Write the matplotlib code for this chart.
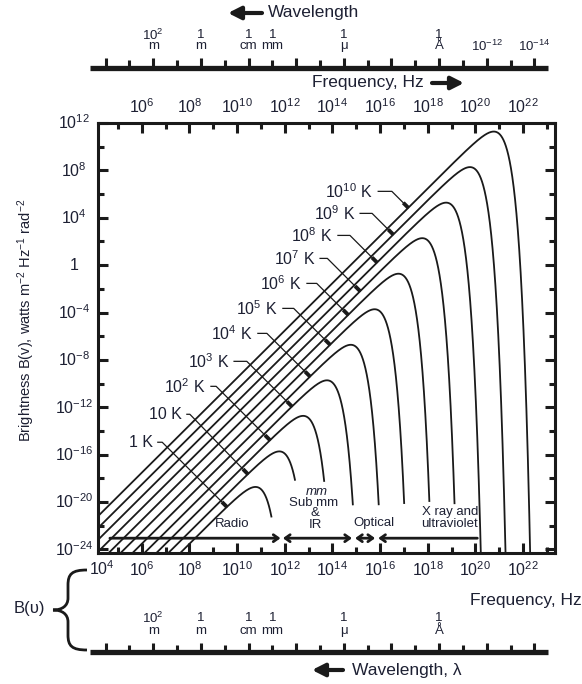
import numpy as np
import matplotlib
matplotlib.use("Agg")
import matplotlib.pyplot as plt
from matplotlib.ticker import FixedLocator, FuncFormatter, NullFormatter
from matplotlib.transforms import blended_transform_factory
from matplotlib.lines import Line2D
from matplotlib.path import Path
from matplotlib.patches import PathPatch

plt.rcParams["font.family"] = ["Liberation Sans", "DejaVu Sans"]
plt.rcParams["mathtext.fontset"] = "custom"
plt.rcParams["mathtext.rm"] = "Liberation Sans"
plt.rcParams["mathtext.it"] = "Liberation Sans:italic"
plt.rcParams["mathtext.bf"] = "Liberation Sans:bold"

# ---------------------------------------------------------------- data
temperatures = [1, 10, 1e2, 1e3, 1e4, 1e5, 1e6, 1e7, 1e8, 1e9, 1e10]
temperature_labels = ["1 K", "10 K", "10$^2$ K", "10$^3$ K", "10$^4$ K", "10$^5$ K",
                      "10$^6$ K", "10$^7$ K", "10$^8$ K", "10$^9$ K", "10$^{10}$ K"]
# log10 brightness at which each curve's high-frequency tail stops (None: runs off the frame)
tail_end_log_b = [-21.3, -18.2, -18.3, -20.3, -20.3, -20.2, -20.0, -20.2, None, None, None]
# log10 frequency where each label's leader meets its curve
leader_log_nu = [9.57, 10.45, 11.38, 12.30, 13.06, 13.90, 14.66, 15.16, 15.87, 16.55, 17.18]
# label anchor (right edge of the text): log10 frequency, log10 brightness
label_log_nu = [6.46, 7.68, 8.69, 9.66, 10.66, 11.71, 12.72, 13.27, 14.02, 14.95, 15.71]
label_log_b = [-14.95, -12.59, -10.23, -8.12, -5.76, -3.65, -1.54, 0.57, 2.51, 4.37, 6.23]

# spectral regions along the bottom of the plot: (start, end) in log10 Hz
region_spans = [(4.66, 11.82), (11.92, 14.82), (14.95, 15.79), (15.92, 20.08)]
region_arrows = ["->", "<->", "<->", "<-"]

# wavelength scale (metres)
wl_tick_exponents = list(range(4, -15, -1))
wl_label_lambda = [1e2, 1, 1e-2, 1e-3, 1e-6, 1e-10, 1e-12, 1e-14]
wl_label_value = ["10$^2$", "1", "1", "1", "1", "1", "", ""]
wl_label_unit = ["m", "m", "cm", "mm", "μ", "Å", "10$^{-12}$", "10$^{-14}$"]
wl_label_on_lower = [True, True, True, True, True, True, False, False]

# ---------------------------------------------------------------- physics
H_PLANCK = 6.62607015e-34
K_BOLTZ = 1.380649e-23
C_LIGHT = 2.99792458e8


def planck_log_b(nu, T):
    """log10 of the Planck brightness, W m^-2 Hz^-1 rad^-2."""
    x = H_PLANCK * nu / (K_BOLTZ * T)
    with np.errstate(over="ignore", divide="ignore"):
        log_den = np.where(x > 30, x / np.log(10), np.log10(np.expm1(np.minimum(x, 30))))
    return np.log10(2 * H_PLANCK / C_LIGHT ** 2) + 3 * np.log10(nu) - log_den


# ---------------------------------------------------------------- figure
W, H = 582, 684
INK = "#1d2033"
LINE = "#1a1a1a"
fig = plt.figure(figsize=(W / 100, H / 100), dpi=100)


def fx(px):
    return px / W


def fy(py):
    return 1 - py / H


ax = fig.add_axes([fx(98), fy(553), fx(555) - fx(98), fy(123) - fy(553)])
ax.set_xscale("log")
ax.set_yscale("log")
ax.set_xlim(10 ** 4.16, 10 ** 23.34)
ax.set_ylim(10 ** -24.3, 10 ** 12)

for sp in ax.spines.values():
    sp.set_linewidth(2.2)
    sp.set_color(LINE)

ax.xaxis.set_major_locator(FixedLocator([10.0 ** k for k in range(6, 24, 2)]))
ax.xaxis.set_minor_locator(FixedLocator([10.0 ** k for k in range(5, 24, 2)]))
ax.xaxis.set_major_formatter(FuncFormatter(lambda v, p: "10$^{%d}$" % round(np.log10(v))))
ax.xaxis.set_minor_formatter(NullFormatter())
ax.yaxis.set_major_locator(FixedLocator([10.0 ** k for k in range(-24, 13, 4)]))
ax.yaxis.set_minor_locator(FixedLocator([10.0 ** k for k in range(-22, 12, 4)]))
ax.yaxis.set_major_formatter(NullFormatter())
ax.yaxis.set_minor_formatter(NullFormatter())
ax.tick_params(which="both", direction="in", top=True, right=True, width=2.2,
               color=LINE, labeltop=True, labelleft=False)
ax.tick_params(which="major", length=7)
ax.tick_params(which="minor", length=4.5)
ax.tick_params(axis="x", labelsize=11.5, labelcolor=INK, pad=5)

# y tick labels, centred in the margin
ytrans = blended_transform_factory(fig.transFigure, ax.transData)
for k in range(-24, 13, 4):
    txt = "1" if k == 0 else "10$^{%d}$" % k
    ax.text(fx(74), 10.0 ** k, txt, transform=ytrans, ha="center", va="center",
            fontsize=11.5, color=INK, clip_on=False)

xtrans = blended_transform_factory(ax.transData, fig.transFigure)
ax.text(10 ** 4.33, fy(569), "10$^4$", transform=xtrans, ha="center", va="center",
        fontsize=11.5, color=INK, clip_on=False)

# ---------------------------------------------------------------- curves
nu = np.logspace(4, 24, 20000)
for T, tail in zip(temperatures, tail_end_log_b):
    lb = planck_log_b(nu, T)
    ipk = int(np.argmax(lb))
    limit = -30 if tail is None else tail
    below = np.nonzero(lb[ipk:] < limit)[0]
    stop = ipk + below[0] if below.size else len(nu)
    ax.plot(nu[:stop], 10 ** lb[:stop], color=LINE, lw=1.3, solid_capstyle="butt")

# ---------------------------------------------------------------- labels with leaders
to_disp = ax.transData.transform
to_data = ax.transData.inverted().transform
for T, lbl, lnu, tx, ty in zip(temperatures, temperature_labels, leader_log_nu,
                               label_log_nu, label_log_b):
    end_nu = 10 ** lnu
    end_b = 10 ** planck_log_b(np.array([end_nu]), T)[0]
    ax.text(10 ** tx, 10 ** ty, lbl, ha="right", va="center", fontsize=11.5, color=INK)
    ex, ey = to_disp((end_nu, end_b))
    sx, sy = to_disp((10 ** tx, 10 ** ty))
    sx += 5
    rise = sy - ey
    kx = max(ex - rise, sx + 3)
    pts = to_data([(sx, sy), (kx, sy), (ex, ey)])
    ax.plot(pts[:, 0], pts[:, 1], lw=0.9, color=LINE)
    d = np.array([kx - ex, sy - ey])
    d /= np.hypot(*d)
    stub = to_data([(ex, ey), (ex + 7 * d[0], ey + 7 * d[1])])
    ax.plot(stub[:, 0], stub[:, 1], lw=2.8, color=LINE, solid_capstyle="butt")

# ---------------------------------------------------------------- spectral regions
arrow_y = 10 ** -23.05
for (a, b), style in zip(region_spans, region_arrows):
    ax.annotate("", xy=(10 ** b, arrow_y), xytext=(10 ** a, arrow_y),
                arrowprops=dict(arrowstyle=style + ",head_length=0.35,head_width=0.25",
                                lw=2.0, color=LINE, shrinkA=0, shrinkB=0,
                                mutation_scale=10))

rfs = 9.5
ax.text(10 ** 9.77, fy(524), "Radio", transform=xtrans, ha="center", va="center",
        fontsize=rfs, color=INK)
ax.text(10 ** 13.35, fy(492), "mm", transform=xtrans, ha="center", va="center",
        fontsize=rfs, color=INK, style="italic")
ax.text(10 ** 13.19, fy(503), "Sub mm", transform=xtrans, ha="center", va="center",
        fontsize=rfs, color=INK)
ax.text(10 ** 13.25, fy(513), "&", transform=xtrans, ha="center", va="center",
        fontsize=rfs, color=INK)
ax.text(10 ** 13.3, fy(525), "IR", transform=xtrans, ha="center", va="center",
        fontsize=rfs, color=INK)
ax.text(10 ** 15.74, fy(523), "Optical", transform=xtrans, ha="center", va="center",
        fontsize=rfs, color=INK)
ax.text(10 ** 18.93, fy(512), "X ray and", transform=xtrans, ha="center", va="center",
        fontsize=rfs, color=INK)
ax.text(10 ** 18.93, fy(524), "ultraviolet", transform=xtrans, ha="center", va="center",
        fontsize=rfs, color=INK)

# ---------------------------------------------------------------- wavelength bars


def wavelength_bar(bar_y, tall_top, short_top, value_y, unit_y, upper):
    fig.add_artist(Line2D([fx(90), fx(548)], [fy(bar_y)] * 2, lw=3.8, color=LINE,
                          transform=fig.transFigure, solid_capstyle="butt"))
    for e in wl_tick_exponents:
        f = C_LIGHT / 10.0 ** e
        top = tall_top if e % 2 == 0 else short_top
        ax.plot([f, f], [fy(bar_y), fy(top)], transform=xtrans, clip_on=False,
                lw=2.2, color=LINE, solid_capstyle="butt")
    for lam, val, unit, low in zip(wl_label_lambda, wl_label_value, wl_label_unit,
                                   wl_label_on_lower):
        if not (upper or low):
            continue
        f = C_LIGHT / lam
        if val:
            ax.text(f, fy(value_y), val, transform=xtrans, ha="center", va="center",
                    fontsize=9.5, color=INK, clip_on=False)
        ax.text(f, fy(unit_y), unit, transform=xtrans, ha="center", va="center",
                fontsize=9.5, color=INK, clip_on=False)


wavelength_bar(67.5, 58, 60, 35, 46, True)
wavelength_bar(651.5, 643, 645, 618, 631, False)


def fig_arrow(x0, x1, y):
    ax.annotate("", xy=(x1, H - y), xytext=(x0, H - y), xycoords="figure pixels",
                textcoords="figure pixels",
                arrowprops=dict(arrowstyle="-|>,head_length=0.75,head_width=0.38",
                                lw=3, color=LINE, shrinkA=0, shrinkB=0,
                                mutation_scale=10))


fig_arrow(262, 228, 13)
fig.text(fx(268), fy(13), "Wavelength", ha="left", va="center", fontsize=12.5, color=INK)
fig.text(fx(312), fy(83), "Frequency, Hz", ha="left", va="center", fontsize=12.5, color=INK)
fig_arrow(432, 464, 83)
fig.text(fx(470), fy(600), "Frequency, Hz", ha="left", va="center", fontsize=12.5, color=INK)
fig_arrow(343, 312, 670)
fig.text(fx(352), fy(670), "Wavelength, λ", ha="left", va="center", fontsize=12.5, color=INK)

# y axis title
fig.text(fx(26), fy(320), "Brightness B(v), watts m$^{-2}$ Hz$^{-1}$ rad$^{-2}$",
         rotation=90, ha="center", va="center", fontsize=10.5, color=INK)

# B(υ) with a curly brace
fig.text(fx(29), fy(608), "B(υ)", ha="center", va="center", fontsize=12, color=INK)
brace_px = [(87, 570), (72, 570), (68, 574), (68, 585), (68, 598),
            (68, 606), (62, 610), (53, 610), (62, 610), (68, 614), (68, 622),
            (68, 635), (68, 646), (72, 650), (87, 650)]
codes = [Path.MOVETO, Path.CURVE4, Path.CURVE4, Path.CURVE4, Path.LINETO,
         Path.CURVE4, Path.CURVE4, Path.CURVE4, Path.CURVE4, Path.CURVE4, Path.CURVE4,
         Path.LINETO, Path.CURVE4, Path.CURVE4, Path.CURVE4]
brace = Path([(fx(x), fy(y)) for x, y in brace_px], codes)
fig.add_artist(PathPatch(brace, fill=False, lw=2.0, edgecolor=LINE,
                         transform=fig.transFigure))

fig.savefig("out.png", dpi=100, facecolor="white")
